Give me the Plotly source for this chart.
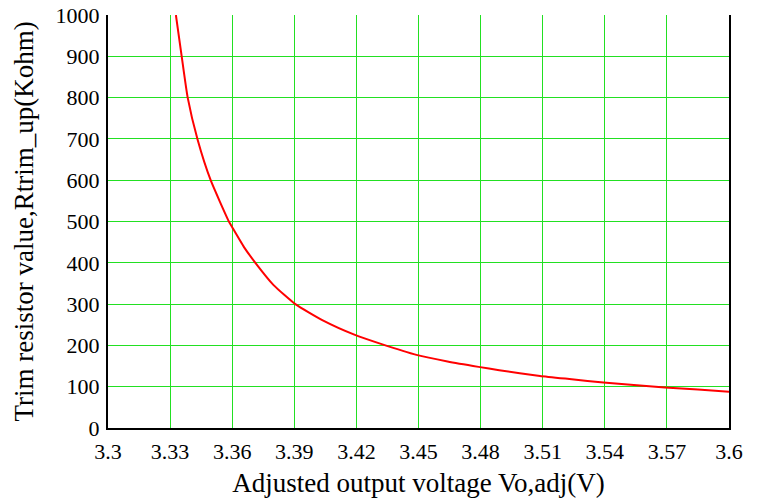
import plotly.graph_objects as go

vo = [3.3328, 3.3356, 3.3385, 3.3433, 3.3496, 3.3584, 3.3600, 3.3657,
      3.3712, 3.3800, 3.3905, 3.4040, 3.4190, 3.4322, 3.4490, 3.4640, 3.4790,
      3.4890, 3.5087, 3.5240, 3.5393, 3.5540, 3.5690, 3.5850, 3.6000]
rtrim = [1000, 900, 800, 698, 600, 500, 486, 438,
         400, 346, 300, 260, 226, 203, 177, 161, 148,
         140, 126, 118, 110, 104, 98, 93, 88]

xtick_vals = [3.3, 3.33, 3.36, 3.39, 3.42, 3.45, 3.48, 3.51, 3.54, 3.57, 3.6]
xtick_text = ["3.3", "3.33", "3.36", "3.39", "3.42", "3.45", "3.48", "3.51", "3.54", "3.57", "3.6"]
ytick_vals = [0, 100, 200, 300, 400, 500, 600, 700, 800, 900, 1000]
ytick_text = ["0", "100", "200", "300", "400", "500", "600", "700", "800", "900", "1000"]

font = "Liberation Serif, Times New Roman, Times, serif"
grid = "#22e022"

fig = go.Figure()
fig.add_trace(go.Scatter(x=vo, y=rtrim, mode="lines",
                         line=dict(color="#ff0000", width=2, shape="spline", smoothing=0.5),
                         showlegend=False, hoverinfo="skip"))

fig.update_layout(
    template="none",
    width=760, height=500,
    margin=dict(l=108, r=31, t=15, b=72),
    paper_bgcolor="white", plot_bgcolor="white",
    font=dict(family=font, color="black", size=22),
    xaxis=dict(range=[3.3, 3.6], tickmode="array", tickvals=xtick_vals, ticktext=xtick_text,
               showgrid=True, gridcolor=grid, gridwidth=1,
               showline=True, linecolor="black", linewidth=2, mirror=False,
               ticks="", zeroline=False, automargin=False, ticklabelstandoff=3,
               tickfont=dict(family=font, size=22, color="black"),
               title=dict(text="Adjusted output voltage Vo,adj(V)",
                          font=dict(family=font, size=27), standoff=10)),
    yaxis=dict(range=[0, 1000], tickmode="array", tickvals=ytick_vals, ticktext=ytick_text,
               showgrid=True, gridcolor=grid, gridwidth=1,
               showline=True, linecolor="black", linewidth=2, mirror=True,
               ticks="", zeroline=False, automargin=False, ticklabelstandoff=2,
               tickfont=dict(family=font, size=22, color="black"),
               title=dict(text="Trim resistor value,Rtrim_up(Kohm)",
                          font=dict(family=font, size=27), standoff=14)),
)

fig.write_html("out.html", config={"displayModeBar": False},
               post_script="document.body.style.margin='0';document.body.style.overflow='hidden';")
